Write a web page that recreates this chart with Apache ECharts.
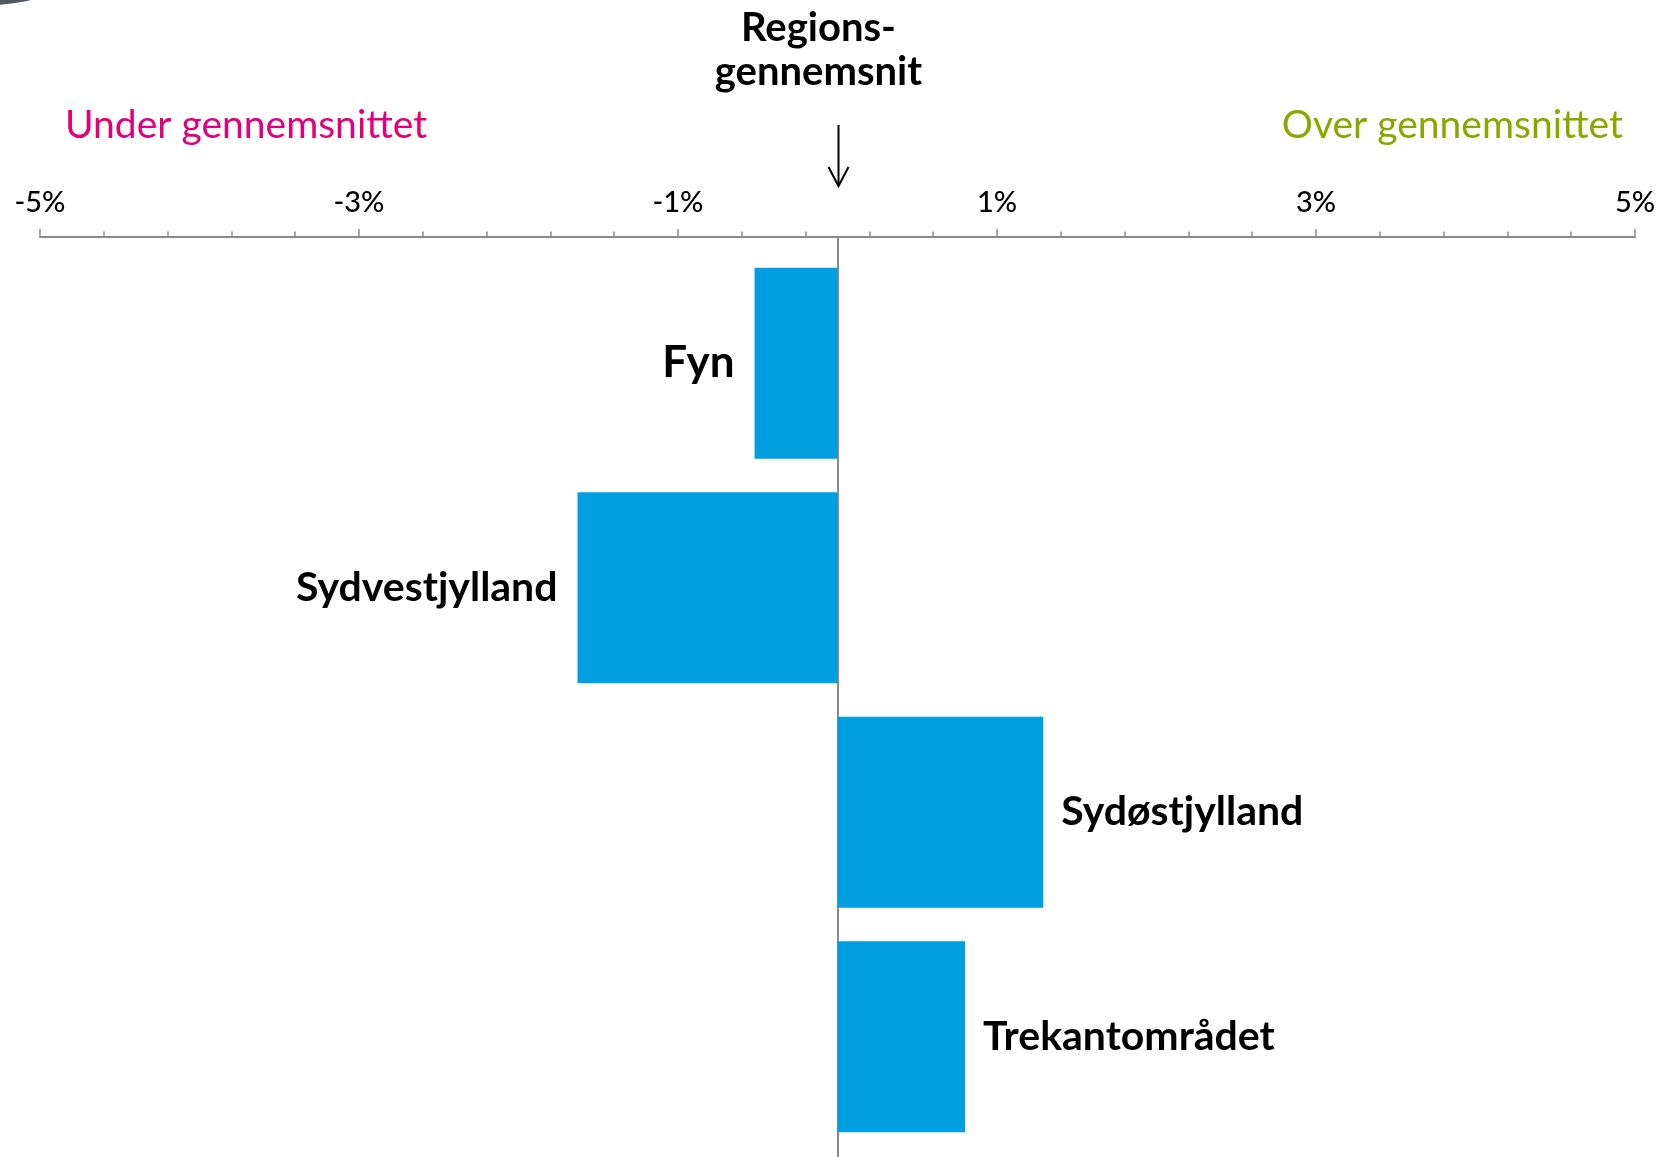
<!DOCTYPE html>
<html>
<head>
<meta charset="utf-8">
<script src="https://cdn.jsdelivr.net/npm/echarts@6/dist/echarts.min.js"></script>
<style>
  html, body { margin: 0; padding: 0; background: #fff; }
  #chart { width: 1664px; height: 1157px; }
</style>
</head>
<body>
<div id="chart"></div>
<script>
// regions and their deviation from the regional average (%)
const regions = ['Fyn', 'Sydvestjylland', 'Sydøstjylland', 'Trekantområdet']
const deviation = [-0.52, -1.63, 1.29, 0.80]
const axisMin = -5
const axisMax = 5
const labelStep = 2

const FONT = 'Lato'
const BAR_COLOR = '#009fe0'
const AXIS_COLOR = '#8a8a8a'

const chart = echarts.init(document.getElementById('chart'))

const barData = deviation.map((v, i) => ({
  value: v,
  name: regions[i],
  label: {
    show: true,
    position: v < 0 ? 'left' : 'right',
    distance: v < 0 ? 20 : 18,
    formatter: '{b}',
    fontFamily: FONT,
    fontWeight: 'bold',
    fontSize: i === 0 ? 44 : 41,
    color: '#000'
  }
}))

const option = {
  animation: false,
  backgroundColor: '#fff',
  grid: [
    { left: 40, right: 29, top: 251, bottom: 8 },
    { left: 40, right: 29, top: 237, bottom: 0 }
  ],
  xAxis: [{
    gridIndex: 0,
    type: 'value',
    position: 'top',
    offset: 14,
    min: axisMin,
    max: axisMax,
    interval: labelStep,
    axisLine: { show: true, lineStyle: { color: AXIS_COLOR, width: 2 } },
    axisTick: { show: true, length: 8, lineStyle: { color: AXIS_COLOR, width: 1.5 } },
    minorTick: { show: true, splitNumber: 5, length: 5.5, lineStyle: { color: AXIS_COLOR, width: 1.5 } },
    axisLabel: {
      formatter: v => v + '%',
      fontFamily: FONT,
      fontWeight: 500,
      fontSize: 29,
      color: '#000',
      margin: 20
    },
    splitLine: { show: false }
  }, {
    gridIndex: 1,
    type: 'value',
    min: axisMin,
    max: axisMax,
    axisLine: { show: false },
    axisTick: { show: false },
    axisLabel: { show: false },
    splitLine: { show: false }
  }],
  yAxis: [{
    gridIndex: 0,
    type: 'category',
    inverse: true,
    data: regions,
    axisLine: { show: false },
    axisTick: { show: false },
    axisLabel: { show: false },
    splitLine: { show: false }
  }, {
    gridIndex: 1,
    type: 'value',
    min: 0,
    max: 1,
    axisLine: { show: true, onZero: true, lineStyle: { color: AXIS_COLOR, width: 2 } },
    axisTick: { show: false },
    axisLabel: { show: false },
    splitLine: { show: false }
  }],
  series: [{
    type: 'bar',
    xAxisIndex: 0,
    yAxisIndex: 0,
    barWidth: 191,
    itemStyle: { color: BAR_COLOR },
    data: barData
  }]
}

chart.setOption(option)

// annotations above the axis, placed from the axis zero
const zeroX = chart.convertToPixel({ xAxisIndex: 0 }, 0)

chart.setOption({
  graphic: [
    { type: 'circle', shape: { cx: -10, cy: -164, r: 169 }, style: { fill: '#4f5963' } },
    {
      type: 'text', left: 65, top: 106,
      style: { text: 'Under gennemsnittet', fontFamily: FONT, fontSize: 39, fill: '#e2007a' }
    },
    {
      type: 'text', right: 41, top: 106,
      style: { text: 'Over gennemsnittet', fontFamily: FONT, fontSize: 39, fill: '#8ca600' }
    },
    {
      type: 'text', x: zeroX - 19, y: 6,
      style: {
        text: 'Regions-\ngennemsnit', align: 'center', fontFamily: FONT, fontWeight: 'bold',
        fontSize: 40, lineHeight: 44, fill: '#000'
      }
    },
    {
      type: 'line', shape: { x1: zeroX + 1, y1: 125, x2: zeroX + 1, y2: 185 },
      style: { stroke: '#000', lineWidth: 2 }
    },
    {
      type: 'polyline', shape: { points: [[zeroX - 9, 167], [zeroX + 1, 186], [zeroX + 11, 167]] },
      style: { stroke: '#000', lineWidth: 2, fill: null }
    }
  ]
})

window.addEventListener('resize', () => chart.resize())
</script>
</body>
</html>
